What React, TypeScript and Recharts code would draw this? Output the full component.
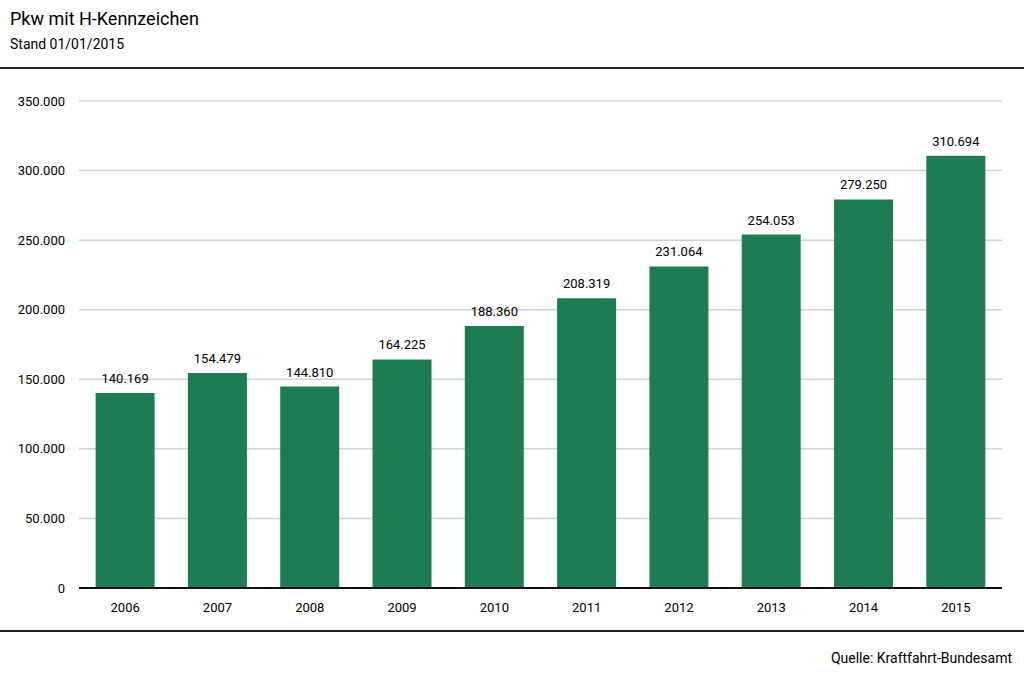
import { BarChart, Bar, XAxis, YAxis, CartesianGrid, LabelList } from 'recharts'

const years = ['2006', '2007', '2008', '2009', '2010', '2011', '2012', '2013', '2014', '2015']
const cars = [140169, 154479, 144810, 164225, 188360, 208319, 231064, 254053, 279250, 310694]
const yTicks = [0, 50000, 100000, 150000, 200000, 250000, 300000, 350000]

const FONT = 'Roboto, "Liberation Sans", Arial, sans-serif'
const GREEN = '#1e7c53'

// German thousands separator
const fmt = (v: number) => String(v).replace(/\B(?=(\d{3})+(?!\d))/g, '.')

export default function App() {
  const data = years.map((year, i) => ({ year, value: cars[i] }))

  return (
    <div style={{ position: 'absolute', left: 0, top: 0, width: 1024, height: 674, background: '#fff', fontFamily: FONT, color: '#000' }}>
      <div style={{ position: 'absolute', left: 10, top: 8, fontSize: 18 }}>Pkw mit H-Kennzeichen</div>
      <div style={{ position: 'absolute', left: 10, top: 36, fontSize: 14 }}>Stand 01/01/2015</div>
      <div style={{ position: 'absolute', left: 0, top: 67, width: 1024, height: 2, background: '#222' }} />
      <div style={{ position: 'absolute', left: 0, top: 630, width: 1024, height: 2, background: '#222' }} />
      <div style={{ position: 'absolute', right: 12, top: 650, fontSize: 14 }}>Quelle: Kraftfahrt-Bundesamt</div>

      <BarChart
        width={1024}
        height={674}
        data={data}
        margin={{ top: 101, right: 22, bottom: 56, left: 0 }}
        barCategoryGap="18%"
        style={{ position: 'absolute', left: 0, top: 0 }}
      >
        <CartesianGrid vertical={false} stroke="#cfd3d1" strokeWidth={1.5} />
        <XAxis
          dataKey="year"
          height={30}
          tickLine={false}
          tickMargin={9}
          axisLine={{ stroke: '#111', strokeWidth: 2 }}
          tick={{ fill: '#000', fontSize: 13, fontFamily: FONT }}
        />
        <YAxis
          width={79}
          domain={[0, 350000]}
          ticks={yTicks}
          interval={0}
          axisLine={false}
          tickLine={false}
          tickMargin={8}
          tickFormatter={fmt}
          tick={{ fill: '#000', fontSize: 13, fontFamily: FONT }}
        />
        <Bar dataKey="value" fill={GREEN} isAnimationActive={false}>
          <LabelList
            dataKey="value"
            position="top"
            offset={10}
            formatter={(v: number) => fmt(v)}
            style={{ fill: '#000', fontSize: 13, fontFamily: FONT }}
          />
        </Bar>
      </BarChart>
    </div>
  )
}
